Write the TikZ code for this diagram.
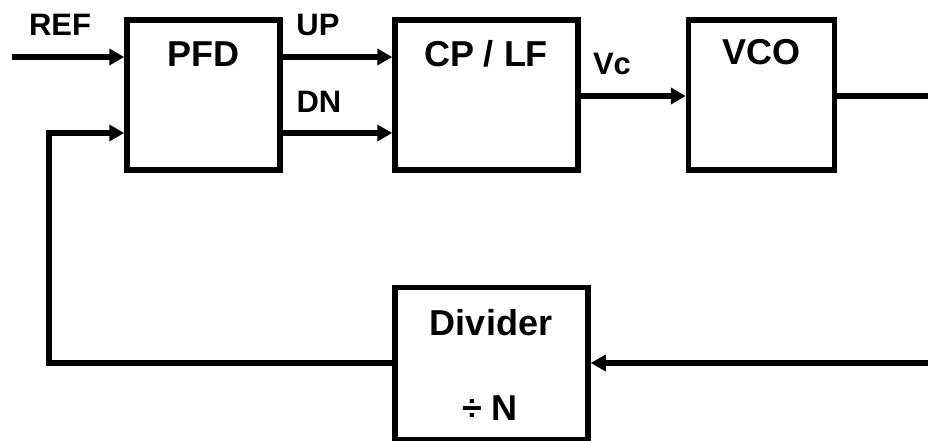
\documentclass[tikz,border=0pt]{standalone}
\usepackage{fontspec}
\setmainfont{Liberation Sans}
\usetikzlibrary{arrows.meta}
\begin{document}
\begin{tikzpicture}[x=1pt,y=-1pt,
  blk/.style={draw,line width=5.5pt,rectangle,inner sep=0pt},
  ln/.style={line width=5.5pt},
  arr/.style={line width=5.5pt,-{Triangle[length=15pt,width=16pt]}},
  big/.style={font=\fontsize{36}{42}\selectfont\bfseries,anchor=base,inner sep=0pt},
  lbl/.style={font=\fontsize{31}{37}\selectfont\bfseries,anchor=base,inner sep=0pt},
  dv/.style={font=\fontsize{36}{42}\selectfont\bfseries,anchor=base,inner sep=0pt}]
\useasboundingbox (0,0) rectangle (928,441);
\node[blk,minimum width=153pt,minimum height=150pt] (PFD) at (203.5,95) {};
\node[blk,minimum width=183pt,minimum height=150pt] (CPLF) at (486.5,95) {};
\node[blk,minimum width=146pt,minimum height=150pt] (VCO) at (761.5,95) {};
\node[blk,minimum width=193pt,minimum height=152pt] (DIV) at (491.5,363.5) {};
\node[big] (tPFD) at (203,67) {PFD};
\node[big] (tCPLF) at (486,67) {CP / LF};
\node[big] (tVCO) at (761,65) {VCO};
\node[dv] (tDIV) at (491,335) {Divider};
\node[dv] (tN) at (490,420) {÷ N};
\node[lbl] (tREF) at (60,36) {REF};
\node[lbl] (tUP) at (318,36) {UP};
\node[lbl] (tDN) at (319,113) {DN};
\node[lbl] (tVc) at (612,75) {Vc};
\coordinate (refin) at (12,57);
\coordinate (dn) at (0,133);
\coordinate (vc) at (0,96);
\coordinate (vcoout) at (928,96);
\coordinate (fbin) at (928,363);
\coordinate (fbc) at (49,363);
\draw[arr] (refin) -- (refin -| PFD.west);
\draw[arr] (refin -| PFD.east) -- (refin -| CPLF.west);
\draw[arr] (dn -| PFD.east) -- (dn -| CPLF.west);
\draw[arr] (vc -| CPLF.east) -- (vc -| VCO.west);
\draw[ln] (vc -| VCO.east) -- (vcoout);
\draw[arr] (fbin) -- (fbin -| DIV.east);
\draw[arr] (fbin -| DIV.west) -- (fbc) |- (dn -| PFD.west);
\end{tikzpicture}
\end{document}
